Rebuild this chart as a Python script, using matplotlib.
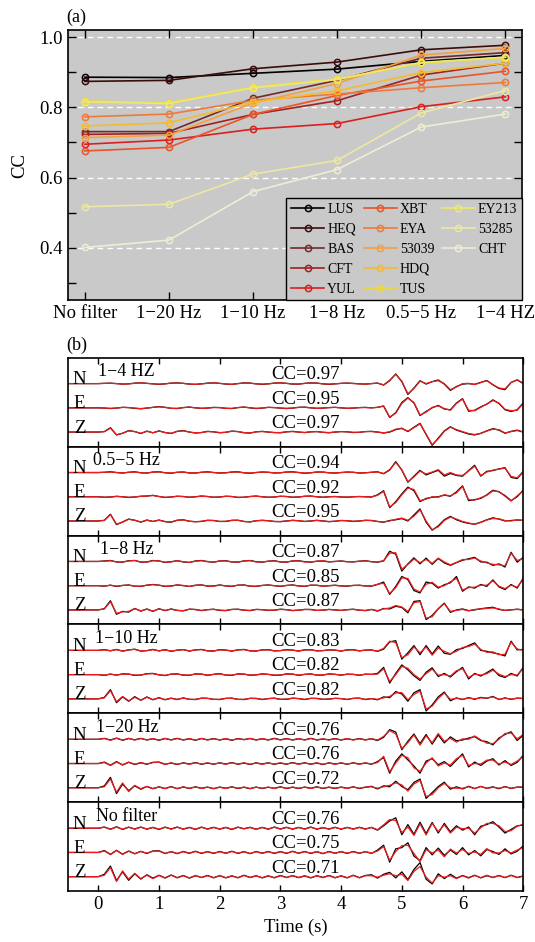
import matplotlib
matplotlib.use("Agg")
import matplotlib.pyplot as plt
from matplotlib.lines import Line2D
import numpy as np

plt.rcParams['font.family'] = ['Liberation Serif', 'DejaVu Serif']
plt.rcParams['mathtext.fontset'] = 'stix'

# ---------------- (a) CC vs filter band ----------------
bands = ['No filter', '1\u221220 Hz', '1\u221210 Hz', '1\u22128 Hz', '0.5\u22125 Hz', '1\u22124 HZ']
stations = ['LUS', 'HEQ', 'BAS', 'CFT', 'YUL', 'XBT', 'EYA', '53039', 'HDQ', 'TUS',
            'EY213', '53285', 'CHT']
st_colors = ['#000000', '#3b0c0c', '#742a2a', '#a02222', '#d8201e', '#ea5428', '#ee7a3a',
             '#f4a03e', '#f6bb2c', '#f0dc2c', '#efe86c', '#ece8a2', '#efedd6']

cc_lus = [0.886, 0.885, 0.897, 0.909, 0.931, 0.948]
cc_heq = [0.874, 0.877, 0.910, 0.929, 0.964, 0.977]
cc_bas = [0.731, 0.731, 0.826, 0.877, 0.940, 0.956]
cc_cft = [0.723, 0.726, 0.780, 0.819, 0.892, 0.926]
cc_yul = [0.695, 0.707, 0.738, 0.754, 0.802, 0.830]
cc_xbt = [0.676, 0.686, 0.780, 0.834, 0.875, 0.903]
cc_eya = [0.773, 0.781, 0.820, 0.838, 0.856, 0.871]
cc_53039 = [0.714, 0.721, 0.812, 0.868, 0.949, 0.968]
cc_hdq = [0.747, 0.756, 0.815, 0.847, 0.899, 0.926]
cc_tus = [0.818, 0.813, 0.858, 0.881, 0.926, 0.942]
cc_ey213 = [0.816, 0.811, 0.856, 0.879, 0.928, 0.943]
cc_53285 = [0.517, 0.524, 0.610, 0.649, 0.784, 0.848]
cc_cht = [0.401, 0.422, 0.560, 0.623, 0.744, 0.781]

# ---------------- (b) waveforms, amplitude in 1/100 of trace spacing ----------------
# samples every 0.1 s starting at t = -0.5 s
T0 = -0.5
DT = 0.1

n14_obs = [0, 0, 0, 0, 0,
           0, 1, 2, 0, -2, -1, 2, 3, 1, -1,
           -3, -1, 2, 3, 1, -2, -3, -1, 2, 3,
           1, -2, -3, 0, 3, 2, -1, -3, -1, 2,
           3, 1, -2, -2, 1, 3, 2, -1, -3, -1,
           1, 2, 1, -1, -2, 0, 2, -6, 12, 40,
           8, -45, -18, 12, -2, 8, 15, -2, -28, -12,
           -2, 0, -3, 5, 13, -5, -20, -25, 5, 15,
           0]
n14_syn = [0, 0, 0, 0, 0,
           0, 1, 1, 0, -2, -1, 1, 3, 1, -1,
           -2, -1, 2, 2, 1, -2, -3, -1, 1, 3,
           1, -1, -3, 0, 2, 2, -1, -2, -1, 2,
           3, 1, -1, -2, 1, 2, 2, -1, -2, -1,
           1, 2, 0, -1, -2, 0, 2, -5, 14, 38,
           10, -42, -20, 10, 0, 8, 12, 0, -25, -14,
           0, 1, -4, 4, 12, -4, -18, -22, 4, 16,
           2]
e14_obs = [0, 0, 0, 0, 0,
           0, -1, -3, -1, 2, 1, -2, -4, -1, 2,
           5, 2, -2, -3, 1, 3, 0, -2, -1, 2,
           1, -2, -3, 1, 3, 0, -3, -1, 2, 1,
           -1, -3, -1, 2, 3, 0, -2, -1, 1, 2,
           0, -2, -1, 1, 2, 0, 2, 7, -40, -20,
           22, 42, 20, -32, -15, 0, 10, -5, -8, 20,
           38, -14, -10, 4, 15, 33, 18, -8, -15, -8,
           20]
e14_syn = [0, 0, 0, 0, 0,
           0, -1, -2, -1, 2, 1, -1, -3, -1, 2,
           4, 2, -2, -2, 1, 3, 0, -2, -1, 1,
           1, -2, -2, 1, 3, 0, -2, -1, 2, 1,
           -1, -2, -1, 2, 2, 0, -2, -1, 1, 2,
           0, -2, -1, 1, 1, 0, 2, 8, -38, -22,
           18, 40, 22, -30, -18, 2, 8, -3, -10, 18,
           36, -10, -12, 2, 16, 30, 20, -6, -12, -10,
           18]
z14_obs = [0, 0, 0, 0, 0,
           0, 2, 18, -12, -5, 6, 2, -6, 4, -3,
           5, -2, -6, 3, 6, 0, -4, -2, 3, 1,
           -3, -1, 4, 2, -3, -4, 1, 3, 0, -2,
           -3, 1, 3, 0, -2, 1, 2, -1, -3, 0,
           2, 1, -2, -1, 2, 3, 0, -4, 0, 10,
           16, 2, 20, 36, -10, -55, -25, 5, 22, 8,
           0, -8, -12, -5, 5, 14, 8, -5, 3, 8,
           0]
z14_syn = [0, 0, 0, 0, 0,
           0, 2, 16, -11, -5, 5, 2, -5, 3, -3,
           4, -2, -5, 3, 5, 0, -3, -2, 2, 1,
           -2, -1, 3, 2, -2, -4, 1, 2, 0, -2,
           -2, 1, 2, 0, -2, 1, 2, -1, -2, 0,
           2, 1, -1, -1, 2, 2, 0, -3, 1, 12,
           14, 4, 18, 34, -8, -52, -28, 3, 20, 10,
           2, -6, -10, -6, 4, 12, 10, -4, 2, 6,
           0]

n055_obs = [0, 0, 0, 0, 0,
            0, 1, 3, 0, -2, 1, 3, -1, -2, 2,
            3, -1, -3, 1, 2, -2, -2, 1, 3, 0,
            -2, -1, 2, 3, -1, -3, 0, 2, 1, -2,
            -1, 2, 3, 0, -3, -1, 2, 2, -1, -2,
            0, 2, 1, -2, -1, 1, 3, -5, 10, 45,
            10, -40, -15, 9, -10, 0, 9, -15, -4, -12,
            -15, 8, 30, -15, 5, 8, 15, 20, -20, -25,
            3]
n055_syn = [0, 0, 0, 0, 0,
            0, 1, 2, 0, -2, 1, 2, -1, -2, 1,
            3, -1, -2, 1, 2, -1, -2, 1, 2, 0,
            -2, -1, 2, 2, -1, -2, 0, 2, 1, -1,
            -1, 2, 2, 0, -2, -1, 2, 1, -1, -2,
            0, 1, 1, -2, -1, 1, 2, -4, 12, 42,
            12, -38, -18, 6, -6, 2, 12, -10, 0, -10,
            -12, 6, 26, -12, 2, 10, 14, 18, -16, -22,
            5]
e055_obs = [0, 0, 0, 0, 0,
            0, -2, -1, 2, 0, -3, -1, 2, 3, 6,
            1, -3, -1, 2, 1, -2, 0, 3, 1, -2,
            -1, 2, 1, -3, -2, 1, 3, 0, -2, -1,
            2, 1, -2, -1, 2, 3, 0, -2, 0, 1,
            -1, -2, 0, 1, 0, -1, 8, 25, -45, -20,
            12, 40, 25, -20, -7, -2, 0, 7, 2, 20,
            45, -16, -12, -7, 8, 27, 20, 5, -16, 0,
            27]
e055_syn = [0, 0, 0, 0, 0,
            0, -2, -1, 1, 0, -2, -1, 2, 3, 5,
            1, -2, -1, 2, 1, -2, 0, 2, 1, -2,
            -1, 2, 1, -2, -2, 1, 2, 0, -2, -1,
            2, 1, -2, -1, 2, 2, 0, -2, 0, 1,
            -1, -1, 0, 1, 0, -1, 6, 22, -42, -24,
            8, 36, 30, -16, -10, 0, -2, 8, 4, 16,
            42, -12, -14, -4, 6, 24, 22, 2, -18, 4,
            24]
z055_obs = [0, 0, 0, 0, 0,
            0, 3, 28, -15, -4, 8, 3, -5, 4, -2,
            4, -3, -5, 3, 5, -1, -3, -2, 3, 2,
            -2, -2, 3, 3, -2, -4, 1, 3, 1, -2,
            -3, 0, 3, 1, -2, 0, 3, 0, -3, -1,
            2, 1, -2, 0, 3, 2, -2, -5, 2, 5,
            10, 0, 25, 50, -5, -38, -20, 5, 19, 5,
            -4, -10, -13, -5, 5, 13, 8, 0, 2, 4,
            3]
z055_syn = [0, 0, 0, 0, 0,
            0, 2, 26, -13, -5, 7, 3, -4, 3, -2,
            3, -2, -4, 3, 4, -1, -3, -1, 2, 2,
            -2, -1, 2, 3, -2, -3, 1, 2, 1, -2,
            -2, 0, 2, 1, -2, 0, 2, 0, -2, -1,
            2, 1, -1, 0, 2, 2, -2, -4, 0, 7,
            12, 3, 20, 46, 0, -36, -24, 2, 16, 8,
            -2, -8, -14, -6, 4, 10, 9, 2, 0, 5,
            2]

n18_obs = [0, 0, 0, 0, 0,
           0, 2, 4, -2, -3, 3, 4, -3, -2, 4,
           2, -4, -1, 3, -2, -4, 2, 4, -1, -3,
           2, 3, -2, -3, 2, 4, -1, -3, 1, 3,
           -2, -3, 2, 3, -1, -3, 1, 2, -2, 0,
           2, -1, -2, 1, 3, -1, -3, 2, 42, 30,
           -40, -10, 15, -10, 14, -12, 12, -6, -16, -5,
           5, 11, 17, -2, -3, -16, -10, -23, 38, -3,
           17]
n18_syn = [0, 0, 0, 0, 0,
           0, 1, 3, -2, -2, 2, 4, -2, -3, 3,
           2, -3, -2, 3, -1, -4, 1, 3, 0, -3,
           2, 2, -2, -2, 2, 3, -2, -2, 1, 2,
           -2, -2, 2, 2, -2, -2, 1, 3, -1, 0,
           1, -1, -1, 1, 2, -1, -2, 3, 34, 36,
           -32, -12, 10, -5, 8, -8, 14, -2, -14, -4,
           8, 8, 14, 2, -6, -12, -14, -18, 34, 4,
           12]
e18_obs = [0, 0, 0, 0, 0,
           0, -2, 2, -3, 1, 3, -2, -3, 2, 5,
           2, -3, -1, 3, 0, -3, 2, 3, -2, -1,
           3, -1, -3, 2, 3, -2, -3, 1, 3, 0,
           -3, 1, 3, -1, -3, 2, 2, -2, 0, 2,
           -1, -2, 1, 2, -1, -2, 5, 15, -36, -3,
           38, 25, -20, -30, 15, 10, -10, 4, 12, 38,
           -23, -5, -10, 5, -3, 24, -5, -16, 5, -10,
           31]
e18_syn = [0, 0, 0, 0, 0,
           0, -1, 2, -2, 1, 2, -2, -2, 2, 4,
           2, -2, -2, 3, 1, -3, 1, 3, -1, -2,
           2, -1, -2, 2, 2, -2, -2, 1, 2, 0,
           -2, 1, 2, -1, -2, 2, 1, -2, 0, 1,
           -1, -1, 1, 1, -1, -1, 6, 10, -32, -8,
           32, 30, -14, -26, 6, 14, -6, 0, 16, 30,
           -18, -8, -6, 2, 2, 20, -2, -12, 2, -6,
           26]
z18_obs = [0, 0, 0, 0, 0,
           0, 5, 38, -18, -6, -9, 6, -5, 4, -6,
           5, -3, 4, -2, -4, 3, 2, -3, 1, 3,
           -2, -3, 2, 3, -1, -3, 2, 1, -2, -1,
           3, 1, -3, -1, 2, 2, -2, -1, 2, 0,
           -2, 1, 3, -1, -3, 2, -5, 6, 4, 15,
           10, -12, 35, 38, -40, -23, 5, 28, -10, 0,
           4, -3, 0, 5, 8, 11, 2, -2, 0, 3,
           0]
z18_syn = [0, 0, 0, 0, 0,
           0, 4, 34, -14, -8, -6, 5, -4, 3, -5,
           4, -2, 3, -2, -3, 3, 1, -2, 1, 2,
           -1, -2, 2, 2, -1, -2, 2, 1, -1, -1,
           2, 1, -2, -1, 2, 1, -2, -1, 2, 0,
           -2, 1, 2, -1, -2, 2, -3, 4, 8, 18,
           12, -6, 30, 34, -34, -28, 4, 26, -6, -2,
           2, -4, 2, 4, 6, 8, 4, -2, 1, 2,
           0]

n110_obs = [0, 0, 0, 0, 0,
            0, 3, -2, 4, -3, 2, 5, -3, -1, 4,
            -2, 3, -4, 1, 3, -3, 2, 4, -2, -3,
            3, 1, -3, 2, 4, -2, -3, 2, 3, -2,
            -1, 3, 1, -3, 2, 3, -2, -1, 2, 1,
            -3, 2, 3, -2, 1, 2, -4, 5, 35, 40,
            -36, -10, 20, -18, 20, -15, 18, -12, -16, 3,
            8, 20, 31, 0, -4, -10, -15, -23, 38, 2,
            4]
n110_syn = [0, 0, 0, 0, 0,
            0, 2, -1, 3, -3, 2, 4, -2, -1, 3,
            -2, 2, -3, 1, 3, -2, 2, 3, -2, -2,
            2, 1, -2, 2, 3, -2, -2, 2, 2, -2,
            -1, 2, 1, -2, 2, 2, -2, -1, 2, 1,
            -2, 2, 2, -2, 1, 1, -3, 8, 38, 32,
            -30, -18, 14, -10, 14, -20, 10, -4, -14, -4,
            12, 16, 26, 4, -8, -6, -18, -16, 34, 6,
            0]
e110_obs = [0, 0, 0, 0, 0,
            0, -3, 2, -2, 3, 2, -3, -2, 4, 5,
            -1, -4, 2, 3, -2, -3, 3, 2, -3, 1,
            4, -2, -3, 3, 2, -3, -1, 3, 1, -3,
            -2, 3, 2, -3, 1, 3, -2, -2, 3, 1,
            -2, 2, 1, -3, 2, 1, 5, 30, -35, 5,
            40, 20, -5, -24, 10, 28, -8, 5, -10, 12,
            30, -18, 5, -6, 8, 23, -4, -12, 5, -6,
            30]
e110_syn = [0, 0, 0, 0, 0,
            0, -2, 2, -2, 2, 2, -2, -2, 3, 4,
            -1, -3, 2, 2, -2, -2, 2, 2, -2, 1,
            3, -2, -2, 2, 2, -2, -1, 2, 1, -2,
            -2, 2, 2, -2, 1, 2, -2, -1, 2, 1,
            -2, 1, 1, -2, 1, 1, 2, 24, -28, 0,
            34, 26, 0, -18, 4, 22, -2, 0, -6, 16,
            24, -12, 2, -2, 4, 18, 2, -8, 0, -2,
            26]
z110_obs = [0, 0, 0, 0, 0,
            0, 6, 38, -16, 8, -10, 9, -6, 8, -4,
            5, -4, 3, -3, 4, -2, -3, 3, 2, -2,
            -3, 2, 3, -2, -3, 2, 2, -3, 1, 3,
            -2, -2, 3, 1, -3, 2, 2, -2, -1, 2,
            1, -3, 2, 3, -3, 1, -4, 8, 5, 30,
            20, -10, 25, 38, -50, -25, 8, 28, -8, 4,
            -3, 5, -2, 6, 2, 10, -3, 4, -2, 3,
            2]
z110_syn = [0, 0, 0, 0, 0,
            0, 4, 34, -12, 10, -8, 6, -5, 6, -3,
            4, -3, 2, -2, 3, -2, -2, 2, 2, -2,
            -2, 2, 2, -2, -2, 2, 1, -2, 1, 2,
            -2, -1, 2, 1, -2, 2, 1, -2, -1, 2,
            1, -2, 2, 2, -2, 1, -2, 4, 10, 24,
            26, -4, 18, 32, -42, -30, 2, 24, -2, 2,
            -2, 4, 0, 4, 3, 8, -2, 2, -1, 2,
            1]

n120_obs = [0, 0, 0, 0, 0,
            0, 4, -3, 5, -4, 3, -2, 4, -3, 2,
            -4, 3, -2, 4, -3, 2, -4, 3, -2, 3,
            -3, 2, -4, 3, -1, 3, -3, 2, -3, 4,
            -2, 3, -3, 2, -2, 4, -3, 1, -2, 3,
            -3, 2, -2, 3, -2, 2, -5, 8, 40, 30,
            -43, -8, 22, -18, 20, -20, 18, -15, 10, -6,
            -3, 5, 11, -5, -10, -23, 5, 20, 31, -5,
            17]
n120_syn = [0, 0, 0, 0, 0,
            0, 3, -4, 4, -3, 4, -3, 3, -2, 3,
            -3, 4, -3, 3, -2, 3, -3, 4, -3, 2,
            -2, 3, -3, 2, -2, 4, -2, 3, -2, 3,
            -3, 2, -2, 3, -3, 3, -2, 2, -3, 2,
            -2, 3, -3, 2, -3, 3, -3, 12, 36, 22,
            -38, -14, 18, -24, 14, -14, 24, -8, 4, -12,
            2, 0, 14, -2, -16, -18, 0, 24, 26, 2,
            20]
e120_obs = [0, 0, 0, 0, 0,
            0, 6, -7, 8, -6, 5, -4, 3, -3, 5,
            6, -3, 2, -4, 3, -2, 4, -3, 2, -3,
            3, -2, 4, -3, 2, -4, 3, -2, 3, -3,
            2, -3, 4, -2, 3, -3, 2, -4, 3, -2,
            2, -3, 3, -2, 2, -3, 8, 25, -40, 10,
            40, 15, -10, -40, 10, 20, -5, 8, -12, 14,
            40, -14, 6, -8, 10, 20, -6, 12, -8, 5,
            34]
e120_syn = [0, 0, 0, 0, 0,
            0, 4, -8, 6, -5, 6, -3, 4, -2, 4,
            5, -4, 3, -3, 2, -3, 3, -2, 3, -2,
            2, -3, 3, -2, 3, -3, 2, -3, 2, -2,
            3, -2, 3, -3, 2, -2, 3, -3, 2, -3,
            3, -2, 2, -3, 3, -2, 4, 30, -34, 2,
            34, 24, -18, -32, 2, 24, -10, 2, -6, 20,
            34, -8, 0, -2, 14, 14, -2, 6, -4, 10,
            28]
z120_obs = [0, 0, 0, 0, 0,
            0, 8, 43, -24, 15, -12, 8, -6, 5, -4,
            4, -3, 5, -4, 3, -3, 4, -2, 3, -4,
            3, -2, 4, -3, 2, -4, 3, -3, 2, -2,
            4, -3, 2, -3, 3, -2, 4, -3, 2, -3,
            3, -2, 4, -3, 2, 6, -5, 8, 4, 27,
            5, -8, 22, 36, -44, -20, 5, 23, -6, 4,
            -5, 6, -3, 5, -2, 4, -4, 5, -3, 3,
            2]
z120_syn = [0, 0, 0, 0, 0,
            0, 4, 36, -18, 20, -16, 10, -4, 6, -3,
            3, -4, 4, -3, 4, -2, 3, -3, 2, -3,
            2, -3, 3, -2, 3, -3, 2, -2, 3, -3,
            3, -2, 3, -2, 2, -3, 3, -2, 3, -2,
            2, -3, 3, -2, 3, 4, -2, 4, 10, 20,
            12, -14, 16, 30, -36, -28, 0, 18, 0, -2,
            -2, 4, -4, 6, -3, 2, -2, 4, -2, 2,
            3]

nnf_obs = [0, 0, 0, 0, 0,
           0, 5, -4, 6, -5, 4, -3, 5, -4, 3,
           -5, 4, -3, 5, -4, 3, -5, 4, -3, 4,
           -4, 3, -5, 4, -2, 4, -4, 3, -4, 5,
           -3, 4, -4, 3, -3, 5, -4, 2, -3, 4,
           -4, 3, -3, 4, -3, 3, -8, 10, 30, 43,
           -27, 15, -25, 25, -22, 24, -20, 20, -15, 10,
           -8, 5, -27, 8, 15, 27, 5, -20, -5, 10,
           13]
nnf_syn = [0, 0, 0, 0, 0,
           0, 4, -5, 5, -4, 5, -4, 4, -3, 4,
           -4, 5, -4, 4, -3, 4, -4, 5, -4, 3,
           -3, 4, -4, 5, -3, 3, -5, 4, -3, 4,
           -4, 3, -3, 4, -4, 4, -3, 3, -4, 3,
           -3, 4, -4, 3, -4, 4, -6, 14, 36, 32,
           -18, 5, -30, 18, -28, 20, -14, 14, -20, 4,
           -2, 0, -20, 2, 20, 20, 10, -14, -10, 8,
           16]
enf_obs = [0, 0, 0, 0, 0,
           0, 8, -8, 9, -7, 6, -5, 4, -4, 6,
           7, -4, 3, -5, 4, -3, 5, -4, 3, -4,
           4, -3, 5, -4, 3, -5, 4, -3, 4, -4,
           3, -4, 5, -3, 4, -4, 3, -5, 4, -3,
           3, -4, 4, -3, 3, -4, 10, 30, -40, 15,
           20, 40, -15, -34, 20, -10, 18, -12, 10, -8,
           20, -10, 8, -14, 12, 4, -8, 15, -6, 5,
           27]
enf_syn = [0, 0, 0, 0, 0,
           0, 6, -9, 8, -8, 5, -6, 5, -3, 5,
           6, -5, 4, -4, 3, -4, 4, -3, 4, -3,
           3, -4, 4, -3, 4, -4, 3, -4, 3, -3,
           4, -3, 4, -4, 3, -3, 4, -4, 3, -4,
           4, -3, 3, -4, 4, -3, 6, 24, -32, 4,
           28, 30, -4, -38, 12, -2, 10, -18, 14, -2,
           12, -4, 2, -8, 16, -2, -2, 8, -2, 10,
           20]
znf_obs = [0, 0, 0, 0, 0,
           0, 10, 44, -16, 20, -15, 12, -10, 8, -6,
           6, -5, 7, -4, 5, -6, 4, -3, 5, -4,
           4, -5, 3, -4, 6, -3, 4, -5, 3, -4,
           5, -3, 4, -4, 3, -5, 4, -3, 5, -4,
           3, -5, 6, -4, 5, 8, -6, 10, 18, -5,
           20, -12, 30, 58, -10, -30, 12, -8, 10, -6,
           5, -4, 6, -5, 4, -3, 5, -4, 6, -3,
           3]
znf_syn = [0, 0, 0, 0, 0,
           0, 6, 38, -20, 24, -10, 14, -8, 6, -8,
           5, -6, 6, -5, 4, -5, 5, -4, 4, -5,
           5, -4, 4, -5, 5, -4, 3, -4, 4, -5,
           4, -4, 5, -3, 4, -4, 3, -4, 4, -5,
           4, -4, 5, -5, 4, 4, -2, 6, 12, 4,
           10, -16, 22, 42, -2, -26, 4, -2, 4, -8,
           4, -6, 5, -4, 6, -4, 4, -3, 5, -4,
           2]

panel_names = ['1\u22124 HZ', '0.5\u22125 Hz', '1\u22128 Hz', '1\u221210 Hz', '1\u221220 Hz', 'No filter']
panel_cc = [[0.97, 0.95, 0.97], [0.94, 0.92, 0.95], [0.87, 0.85, 0.87],
            [0.83, 0.82, 0.82], [0.76, 0.76, 0.72], [0.76, 0.75, 0.71]]
comps = ['N', 'E', 'Z']

# ================= figure =================
fig = plt.figure(figsize=(5.35, 9.42), dpi=100)

ax = fig.add_axes([0.127, 0.681, 0.849, 0.287])
ax.set_facecolor('#c9c9c9')
xs = np.arange(len(bands))
series = [cc_lus, cc_heq, cc_bas, cc_cft, cc_yul, cc_xbt, cc_eya, cc_53039, cc_hdq,
          cc_tus, cc_ey213, cc_53285, cc_cht]
for yv in [0.4, 0.6, 0.8, 1.0]:
    ax.axhline(yv, color='white', ls=(0, (4, 3)), lw=1.0, zorder=1)
handles = []
for name, vals, col in zip(stations, series, st_colors):
    h, = ax.plot(xs, vals, '-o', color=col, lw=1.2, ms=4.5, mfc='none', mew=1.1,
                 label=name, zorder=3)
    handles.append(h)
# empty slot so that the columns split 5 / 5 / 4
handles.append(Line2D([], [], color='none', label=' '))
leg = ax.legend(handles=handles, labels=[h.get_label() for h in handles], ncol=3,
                loc='lower right', bbox_to_anchor=(1.0, 0.0), fontsize=10,
                frameon=True, fancybox=False, framealpha=1, facecolor='#c9c9c9',
                edgecolor='black', handlelength=2.4, handletextpad=0.2,
                columnspacing=0.55, labelspacing=0.5, borderpad=0.35,
                borderaxespad=0.0)
leg.get_frame().set_linewidth(1.0)
ax.set_xlim(-0.2, 5.2)
ax.set_ylim(0.25, 1.02)
ax.set_xticks(xs)
ax.set_xticklabels(bands, fontsize=13.5)
ax.set_yticks([0.4, 0.6, 0.8, 1.0])
ax.set_yticklabels(['0.4', '0.6', '0.8', '1.0'], fontsize=13.5)
ax.set_yticks([0.3, 0.5, 0.7, 0.9], minor=True)
ax.tick_params(which='both', direction='in', top=True, right=True, length=6, width=1.0)
ax.set_ylabel('CC', fontsize=13.5, labelpad=8)
for s in ax.spines.values():
    s.set_linewidth(1.2)
fig.text(0.143, 0.982, '(a)', fontsize=13, ha='center', va='center')

# ---------------- (b) ----------------
traces = [[(n14_obs, n14_syn), (e14_obs, e14_syn), (z14_obs, z14_syn)],
          [(n055_obs, n055_syn), (e055_obs, e055_syn), (z055_obs, z055_syn)],
          [(n18_obs, n18_syn), (e18_obs, e18_syn), (z18_obs, z18_syn)],
          [(n110_obs, n110_syn), (e110_obs, e110_syn), (z110_obs, z110_syn)],
          [(n120_obs, n120_syn), (e120_obs, e120_syn), (z120_obs, z120_syn)],
          [(nnf_obs, nnf_syn), (enf_obs, enf_syn), (znf_obs, znf_syn)]]

left, width = 0.127, 0.851
top = 0.6203
h = 0.0944
for k in range(6):
    bx = fig.add_axes([left, top - (k + 1) * h, width, h])
    for j in range(3):
        obs, syn = traces[k][j]
        off = -j
        t = T0 + DT * np.arange(len(obs))
        bx.plot(t, np.array(obs) / 100.0 + off, color='black', lw=0.9)
        bx.plot(t, np.array(syn) / 100.0 + off, color='#ee1c1c', lw=0.9)
        bx.text(-0.31, off - 0.02, comps[j], fontsize=13.5, ha='center', va='baseline')
        bx.text(3.42, off + 0.17, 'CC=%.2f' % panel_cc[k][j], fontsize=13.5,
                ha='center', va='baseline')
    bx.text(0.47, 0.3, panel_names[k], fontsize=13, ha='center', va='baseline')
    bx.set_xlim(-0.5, 7)
    bx.set_ylim(-2.6, 1.07)
    bx.set_yticks([])
    bx.set_xticks(range(8))
    bx.tick_params(axis='x', direction='in', top=True, length=4, width=1.0,
                   labelsize=13.5)
    if k < 5:
        bx.set_xticklabels([])
    for s in bx.spines.values():
        s.set_linewidth(1.2)
    if k == 5:
        bx.set_xlabel('Time (s)', fontsize=13.5, labelpad=4)
fig.text(0.144, 0.633, '(b)', fontsize=13, ha='center', va='center')

fig.savefig('out.png', dpi=100)
